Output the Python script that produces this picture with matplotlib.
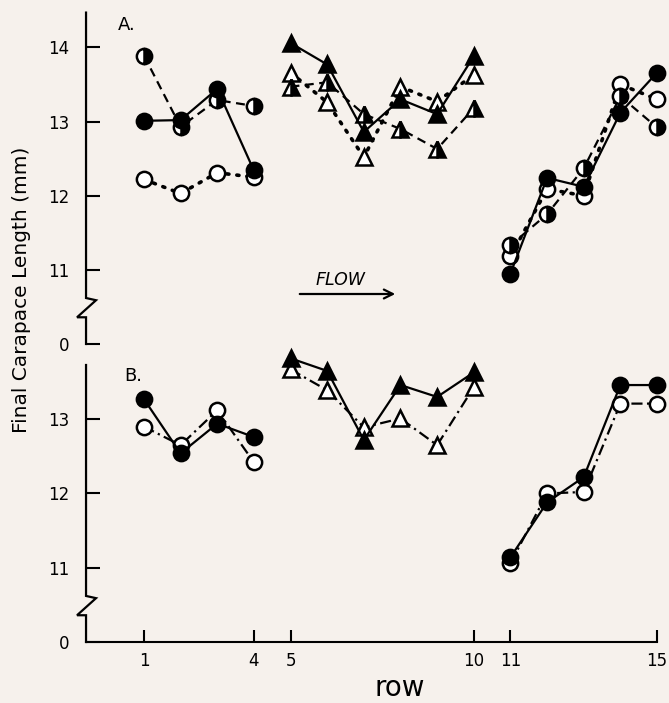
import matplotlib
matplotlib.use('Agg')
import matplotlib.pyplot as plt

BG = '#f6f1ec'

# ---------------- data ----------------
rows_left = [1, 2, 3, 4]
rows_mid = [5, 6, 7, 8, 9, 10]
rows_right = [11, 12, 13, 14, 15]

# Panel A
a_circ_filled = [13.01, 13.02, 13.44, 12.34]
a_circ_half = [13.89, 12.93, 13.29, 13.21]
a_circ_open = [12.22, 12.03, 12.31, 12.25]
a_tri_filled = [14.06, 13.77, 12.86, 13.30, 13.10, 13.88]
a_tri_open = [13.66, 13.26, 12.52, 13.47, 13.27, 13.63]
a_tri_half = [13.47, 13.53, 13.10, 12.90, 12.63, 13.18]
a_right_filled = [10.95, 12.24, 12.12, 13.12, 13.66]
a_right_open = [11.18, 12.09, 12.00, 13.50, 13.30]
a_right_half = [11.33, 11.75, 12.37, 13.34, 12.92]

# Panel B
b_circ_filled = [13.27, 12.54, 12.94, 12.76]
b_circ_open = [12.90, 12.65, 13.12, 12.42]
b_tri_filled = [13.82, 13.65, 12.72, 13.46, 13.30, 13.63]
b_tri_open = [13.67, 13.39, 12.89, 13.01, 12.65, 13.43]
b_right_filled = [11.14, 11.88, 12.22, 13.46, 13.46]
b_right_open = [11.06, 12.00, 12.02, 13.21, 13.21]

a_yticks = [10, 11, 12, 13, 14]
a_yticklabels = ['0', '11', '12', '13', '14']
b_yticks = [10, 11, 12, 13]
b_yticklabels = ['0', '11', '12', '13']
xticks = [1, 4, 5, 10, 11, 15]
xticklabels = ['1', '4', '5', '10', '11', '15']

# ---------------- styles ----------------
SOLID = '-'
DASHED = (0, (4, 2.5))
DOTTED = (0, (0.6, 2.2))
DASHDOT = (0, (5, 2, 1, 2))
LW = 1.6
MS_C = 11
MS_T = 12
MEW = 1.8

plt.rcParams['font.family'] = ['DejaVu Sans']

fig = plt.figure(figsize=(6.69, 7.03), dpi=100, facecolor=BG)
axA = fig.add_axes([0.1286, 0.5107, 0.8535, 0.4714], facecolor=BG)
axB = fig.add_axes([0.1286, 0.0868, 0.8535, 0.3940], facecolor=BG)


def series(ax, x, y, marker, fill, ls, ms, z):
    kw = dict(color='black', linewidth=LW, linestyle=ls, marker=marker,
              markersize=ms, markeredgewidth=MEW, markeredgecolor='black',
              clip_on=False, zorder=z, dash_capstyle='round' if ls == DOTTED else 'butt')
    if fill == 'filled':
        kw.update(markerfacecolor='black')
    elif fill == 'open':
        kw.update(markerfacecolor='white')
    else:
        kw.update(markerfacecolor='black', markerfacecoloralt='white', fillstyle='right')
    if ls == DOTTED:
        kw['linewidth'] = 2.6
    ax.plot(x, y, **kw)


# Panel A
series(axA, rows_left, a_circ_open, 'o', 'open', DOTTED, MS_C, 3)
series(axA, rows_left, a_circ_half, 'o', 'half', DASHED, MS_C, 4)
series(axA, rows_left, a_circ_filled, 'o', 'filled', SOLID, MS_C, 5)
series(axA, rows_mid, a_tri_open, '^', 'open', DOTTED, MS_T, 3)
series(axA, rows_mid, a_tri_half, '^', 'half', DASHED, MS_T, 4)
series(axA, rows_mid, a_tri_filled, '^', 'filled', SOLID, MS_T, 5)
series(axA, rows_right, a_right_open, 'o', 'open', DOTTED, MS_C, 3)
series(axA, rows_right, a_right_half, 'o', 'half', DASHED, MS_C, 4)
series(axA, rows_right, a_right_filled, 'o', 'filled', SOLID, MS_C, 5)

# Panel B
series(axB, rows_left, b_circ_open, 'o', 'open', DASHDOT, MS_C, 3)
series(axB, rows_left, b_circ_filled, 'o', 'filled', SOLID, MS_C, 4)
series(axB, rows_mid, b_tri_open, '^', 'open', DASHDOT, MS_T, 3)
series(axB, rows_mid, b_tri_filled, '^', 'filled', SOLID, MS_T, 4)
series(axB, rows_right, b_right_open, 'o', 'open', DASHDOT, MS_C, 3)
series(axB, rows_right, b_right_filled, 'o', 'filled', SOLID, MS_C, 4)

for ax, ylim, yt, ytl in ((axA, (10, 14.47), a_yticks, a_yticklabels),
                          (axB, (10, 13.73), b_yticks, b_yticklabels)):
    ax.set_xlim(-0.58, 15)
    ax.set_ylim(*ylim)
    for s in ('top', 'right', 'left'):
        ax.spines[s].set_visible(False)
    ax.set_yticks(yt)
    ax.set_yticklabels(ytl)
    ax.tick_params(axis='y', direction='in', length=10, width=1.5, pad=12,
                   labelsize=12)
    # broken left axis with zigzag
    tr = ax.get_yaxis_transform()
    dx = 0.0175
    ax.plot([0, 0, dx, -dx * 0.9, 0, 0],
            [ylim[1], 10.62, 10.59, 10.36, 10.36, 10],
            transform=tr, color='black', linewidth=1.6, clip_on=False,
            solid_joinstyle='miter')

axA.spines['bottom'].set_visible(False)
axA.set_xticks([])

axB.spines['bottom'].set_linewidth(1.5)
axB.set_xticks(xticks)
axB.set_xticklabels(xticklabels)
axB.tick_params(axis='x', direction='in', length=9, width=1.5, pad=7,
                labelsize=12)

# texts
fig.text(127 / 669, 1 - 25 / 703, 'A.', fontsize=13, ha='center', va='center')
fig.text(133 / 669, 1 - 376 / 703, 'B.', fontsize=13, ha='center', va='center')
fig.text(340 / 669, 1 - 280 / 703, 'FLOW', fontsize=12.5, style='italic',
         ha='center', va='center')
fig.add_artist(matplotlib.patches.FancyArrowPatch(
    (297 / 669, 1 - 294 / 703), (398 / 669, 1 - 294 / 703),
    transform=fig.transFigure, arrowstyle='->', mutation_scale=16,
    linewidth=1.6, color='black'))
fig.text(22 / 669, 1 - 290 / 703, 'Final Carapace Length (mm)', fontsize=14.5,
         rotation=90, ha='center', va='center')
fig.text(400 / 669, 1 - 688 / 703, 'row', fontsize=20, ha='center', va='center')

fig.savefig('out.png', dpi=100, facecolor=BG)
